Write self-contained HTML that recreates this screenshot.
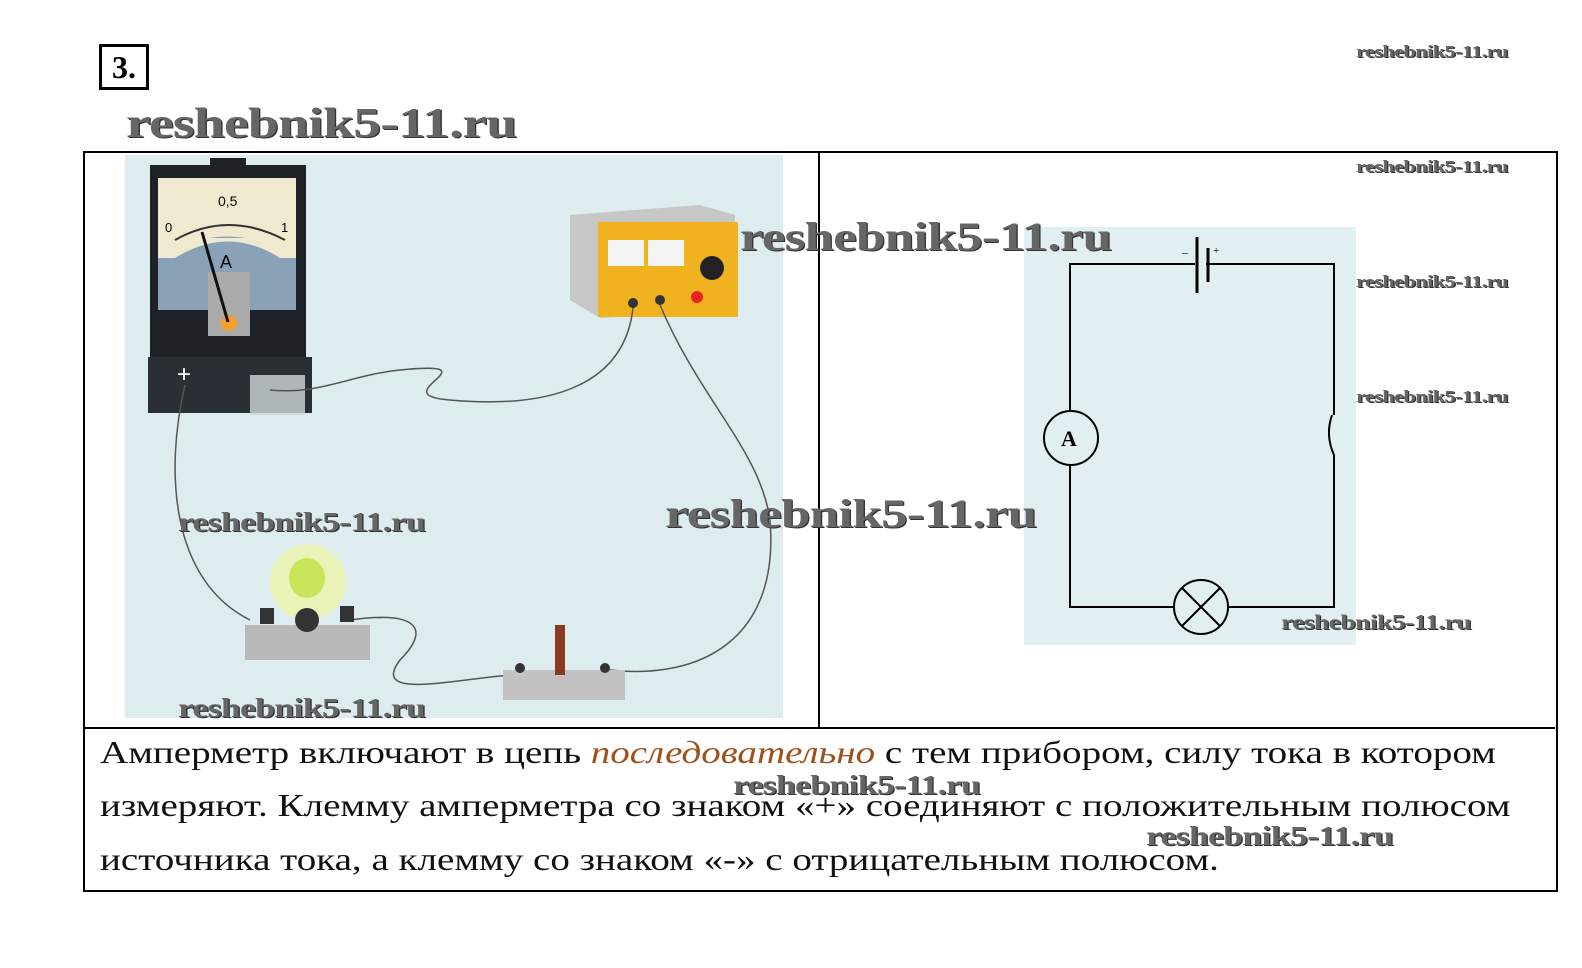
<!DOCTYPE html>
<html><head><meta charset="utf-8"><style>
body{margin:0;width:1582px;height:968px;background:#fff;position:relative;overflow:hidden;font-family:"Liberation Serif",serif}
.a{position:absolute}
.wm{position:absolute;font-family:"Liberation Serif",serif;font-weight:bold;color:#666;text-shadow:1px 1px 0 #333;white-space:nowrap;letter-spacing:-0.5px;transform:scaleX(1.32);transform-origin:0 0}
.txt{position:absolute;left:100px;font-size:32px;color:#111;white-space:nowrap;transform:scaleX(1.22);transform-origin:0 0}
</style></head><body>
<div class="a" style="left:99px;top:44px;width:44px;height:40px;border:3px solid #000;font-size:32px;font-weight:bold;line-height:40px;text-align:center">3.</div>
<div class="wm" style="left:126px;top:100px;font-size:42px">reshebnik5-11.ru</div>
<div class="wm" style="left:1356px;top:42px;font-size:17px">reshebnik5-11.ru</div>
<div class="a" style="left:83px;top:151px;width:1471px;height:737px;border:2px solid #000"></div>
<div class="a" style="left:818px;top:152px;width:2px;height:577px;background:#000"></div>
<div class="a" style="left:84px;top:727px;width:1471px;height:2px;background:#000"></div>
<div class="a" style="left:125px;top:155px;width:658px;height:563px;background:#dcecef"></div>
<svg class="a" style="left:0;top:0" width="1582" height="968">
 <rect x="150" y="165" width="156" height="200" fill="#1e2126"/>
 <rect x="210" y="158" width="36" height="10" fill="#1e2126"/>
 <rect x="158" y="178" width="138" height="60" fill="#efe9cf"/>
 <path d="M158 258 Q228 215 296 258 L296 310 L158 310Z" fill="#8aa2b8"/>
 <rect x="158" y="238" width="138" height="20" fill="#efe9cf"/>
 <path d="M175 258 Q228 225 280 258" fill="#8aa2b8"/>
 <rect x="158" y="258" width="138" height="52" fill="#8aa2b8"/>
 <rect x="208" y="272" width="42" height="64" fill="#aaa"/>
 <circle cx="229" cy="323" r="8" fill="#f2a12a"/>
 <line x1="228" y1="322" x2="202" y2="232" stroke="#111" stroke-width="3"/>
 <text x="218" y="206" font-size="14" font-family="Liberation Sans">0,5</text>
 <text x="165" y="232" font-size="13" font-family="Liberation Sans">0</text>
 <text x="281" y="232" font-size="13" font-family="Liberation Sans">1</text>
 <text x="220" y="268" font-size="18" font-family="Liberation Sans">A</text>
 <path d="M175 240 Q228 210 285 240" fill="none" stroke="#333" stroke-width="2"/>
 <rect x="148" y="357" width="164" height="56" fill="#2a2e35"/>
 <text x="177" y="382" font-size="24" fill="#fff" font-family="Liberation Sans">+</text>
 <rect x="250" y="375" width="55" height="40" fill="#cfd8dc" opacity=".8"/>
 <path d="M570 215 L700 205 L735 215 L735 310 L600 318 L570 300Z" fill="#c7c7c7"/>
 <rect x="598" y="222" width="140" height="95" fill="#f0b21e"/>
 <rect x="608" y="240" width="36" height="26" fill="#f4f4f4"/><rect x="648" y="240" width="36" height="26" fill="#f4f4f4"/>
 <circle cx="712" cy="268" r="12" fill="#222"/>
 <circle cx="697" cy="297" r="6" fill="#e22"/>
 <circle cx="633" cy="303" r="5" fill="#333"/><circle cx="660" cy="300" r="5" fill="#333"/>
 <g fill="none" stroke="#555" stroke-width="1.5">
 <path d="M633 308 C625 380 560 410 450 400 C380 395 500 360 400 370 C350 375 320 395 270 390"/>
 <path d="M660 305 C700 400 760 450 770 520 C780 640 700 680 610 670"/>
 <path d="M185 385 C165 470 170 580 250 620"/>
 <path d="M350 620 C420 610 430 630 400 660 C370 700 450 680 510 675"/>
 </g>
 <circle cx="308" cy="582" r="38" fill="#eef7a0" opacity=".7"/>
 <ellipse cx="307" cy="578" rx="18" ry="20" fill="#c9e65a"/>
 <path d="M245 625 L370 625 L370 660 L245 660Z" fill="#b9b9b9"/>
 <circle cx="307" cy="620" r="12" fill="#333"/>
 <rect x="260" y="608" width="14" height="16" fill="#333"/><rect x="340" y="606" width="14" height="16" fill="#333"/>
 <rect x="503" y="670" width="122" height="30" fill="#c2c2c2"/>
 <rect x="555" y="625" width="10" height="50" fill="#8a3b1e"/>
 <circle cx="520" cy="668" r="5" fill="#333"/><circle cx="605" cy="668" r="5" fill="#333"/>
 <rect x="1024" y="227" width="332" height="418" fill="#e1eef2"/>
 <g fill="none" stroke="#000" stroke-width="2">
 <path d="M1070 411 L1070 264 L1195 264 M1206 264 L1334 264 L1334 415"/>
 <path d="M1334 455 L1334 607 L1229 607 M1174 607 L1070 607 L1070 465"/>
 <path d="M1332 415 Q1325 435 1334 455"/>
 <circle cx="1071" cy="438" r="27"/>
 <circle cx="1201" cy="607" r="27"/>
 <path d="M1182 588 L1220 626 M1220 588 L1182 626"/>
 </g>
 <line x1="1197" y1="237" x2="1197" y2="293" stroke="#000" stroke-width="3"/>
 <line x1="1208" y1="248" x2="1208" y2="282" stroke="#000" stroke-width="3"/>
 <text x="1182" y="256" font-size="12">–</text><text x="1213" y="254" font-size="11">+</text>
 <text x="1061" y="446" font-size="22" font-weight="bold" font-family="Liberation Serif">A</text>
</svg>
<div class="wm" style="left:740px;top:213px;font-size:40px">reshebnik5-11.ru</div>
<div class="wm" style="left:665px;top:490px;font-size:40px">reshebnik5-11.ru</div>
<div class="wm" style="left:178px;top:507px;font-size:27px">reshebnik5-11.ru</div>
<div class="wm" style="left:178px;top:693px;font-size:27px">reshebnik5-11.ru</div>
<div class="wm" style="left:1356px;top:157px;font-size:17px">reshebnik5-11.ru</div>
<div class="wm" style="left:1356px;top:272px;font-size:17px">reshebnik5-11.ru</div>
<div class="wm" style="left:1356px;top:387px;font-size:17px">reshebnik5-11.ru</div>
<div class="wm" style="left:1281px;top:610px;font-size:21px">reshebnik5-11.ru</div>
<div class="txt" style="top:734px">Амперметр включают в цепь <i style="color:#a0501a">последовательно</i> с тем прибором, силу тока в котором</div>
<div class="txt" style="top:787px">измеряют. Клемму амперметра со знаком «+» соединяют с положительным полюсом</div>
<div class="txt" style="top:841px">источника тока, а клемму со знаком «-» с отрицательным полюсом.</div>
<div class="wm" style="left:733px;top:770px;font-size:27px">reshebnik5-11.ru</div>
<div class="wm" style="left:1146px;top:821px;font-size:27px">reshebnik5-11.ru</div>
</body></html>
